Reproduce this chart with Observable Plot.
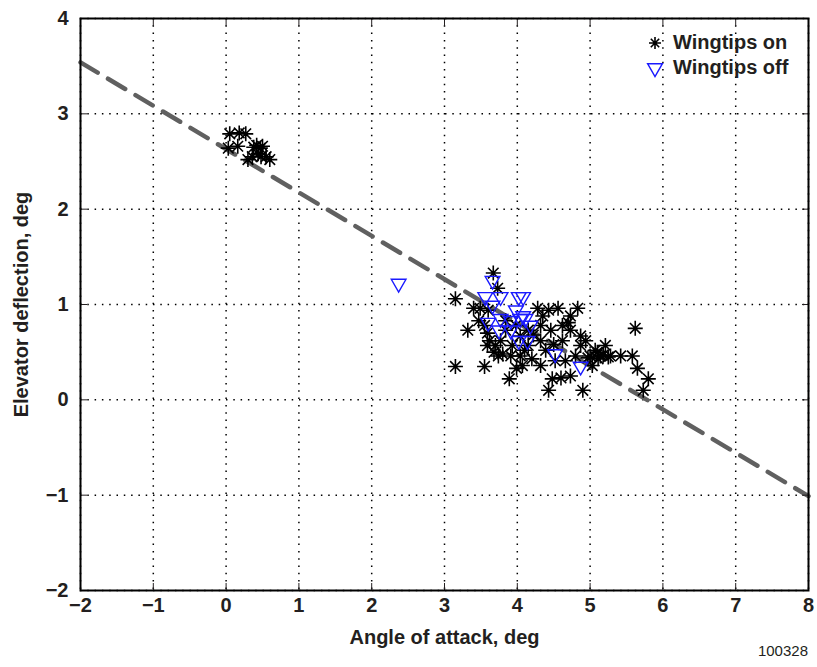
<!DOCTYPE html>
<html>
<head>
<meta charset="utf-8">
<script src="https://cdn.jsdelivr.net/npm/d3@7"></script>
<script src="https://cdn.jsdelivr.net/npm/@observablehq/plot@0.6"></script>
<style>
  body { margin: 0; background: #fff; }
  #wrap { position: relative; width: 817px; height: 667px; font-family: "Liberation Sans", Arial, sans-serif; }
  #legend { position: absolute; left: 645px; top: 30px; font-weight: bold; font-size: 20px; color: #231f20; line-height: 25px; }
  #legend div { display: flex; align-items: center; white-space: nowrap; }
  #legend svg { margin-right: 8px; }
  #caption { position: absolute; right: 9px; top: 642px; font-size: 15px; color: #231f20; }
</style>
</head>
<body>
<div id="wrap">
  <div id="chart"></div>
  <div id="legend"></div>
  <div id="caption">100328</div>
</div>
<script>
// ---- data ----
const onX = [0.05,0.18,0.27,0.03,0.16,0.30,0.38,0.42,0.47,0.44,0.36,0.50,0.55,0.60,0.48,
  3.67,3.73,3.15,3.15,3.55,3.89,4.43,4.90,4.48,4.60,3.40,3.49,3.60,3.32,3.47,3.59,3.77,3.93,3.91,4.04,3.74,4.15,4.32,4.39,4.20,4.52,4.32,4.07,4.15,4.32,4.46,4.62,4.73,4.87,4.28,4.43,4.56,4.83,4.70,4.62,4.73,4.87,4.94,5.00,5.07,5.14,5.21,5.28,5.11,5.03,5.42,5.62,5.58,5.65,5.80,5.73,4.73,4.66,4.80,3.84,3.98,4.04,3.84,3.70,3.59,3.55,3.99,3.62,3.68,3.80,4.10,4.22,4.35,4.50,4.97,5.18,5.25,5.10];
const onY = [2.79,2.80,2.79,2.64,2.66,2.52,2.65,2.67,2.64,2.58,2.55,2.66,2.55,2.52,2.55,
  1.33,1.17,1.06,0.35,0.35,0.22,0.10,0.10,0.22,0.23,0.96,0.96,0.94,0.73,0.83,0.70,0.62,0.57,0.46,0.46,0.46,0.57,0.62,0.52,0.43,0.41,0.36,0.36,0.73,0.78,0.73,0.62,0.73,0.67,0.96,0.94,0.96,0.96,0.81,0.78,0.88,0.57,0.62,0.46,0.52,0.46,0.57,0.46,0.43,0.36,0.46,0.75,0.46,0.33,0.22,0.10,0.25,0.41,0.46,0.83,0.78,0.67,0.73,0.57,0.57,0.78,0.33,0.62,0.50,0.48,0.52,0.68,0.88,0.58,0.44,0.47,0.45,0.50];
const offX = [2.37,3.66,3.56,3.66,3.77,3.60,3.77,3.91,4.02,4.08,4.04,3.91,4.11,4.18,4.02,4.14,4.52,4.87,3.75,3.98,4.08];
const offY = [1.22,1.25,1.08,0.99,1.08,0.81,0.85,0.83,1.08,1.08,0.85,0.73,0.85,0.78,0.62,0.62,0.48,0.35,0.73,0.94,0.88];
const fitX = [-2, 8];
const fitY = [3.54, -1.01];
const xTicks = [-2,-1,0,1,2,3,4,5,6,7,8];
const yTicks = [-2,-1,0,1,2,3,4];
const seriesNames = ["Wingtips on", "Wingtips off"];

// ---- symbols ----
const asterisk8 = {draw(ctx, size) {
  const r = Math.sqrt(size / Math.PI), d = r * Math.SQRT1_2;
  ctx.moveTo(-r, 0); ctx.lineTo(r, 0);
  ctx.moveTo(0, -r); ctx.lineTo(0, r);
  ctx.moveTo(-d, -d); ctx.lineTo(d, d);
  ctx.moveTo(-d, d); ctx.lineTo(d, -d);
}};
const triDown = {draw(ctx, size) {
  const r = Math.sqrt(size / Math.PI), c = r * Math.sqrt(3) / 2;
  ctx.moveTo(-c, -r / 2); ctx.lineTo(c, -r / 2); ctx.lineTo(0, r); ctx.closePath();
}};

const onData = onX.map((x, i) => ({x, y: onY[i]}));
const offData = offX.map((x, i) => ({x, y: offY[i]}));
const fitData = fitX.map((x, i) => ({x, y: fitY[i]}));
const fmt = d => d < 0 ? "\u2212" + Math.abs(d) : String(d);

const plot = Plot.plot({
  width: 817, height: 667,
  marginLeft: 80, marginRight: 9, marginTop: 18, marginBottom: 77,
  style: {fontFamily: "Liberation Sans, Arial, sans-serif", fontSize: "20px", fontWeight: "bold", color: "#231f20", background: "#fff"},
  x: {domain: [-2, 8]},
  y: {domain: [-2, 4]},
  marks: [
    Plot.gridX(xTicks, {stroke: "black", strokeOpacity: 1, strokeWidth: 1.5, strokeDasharray: "1.5,5.8"}),
    Plot.gridY(yTicks, {stroke: "black", strokeOpacity: 1, strokeWidth: 1.5, strokeDasharray: "1.5,5.8"}),
    Plot.line(fitData, {x: "x", y: "y", stroke: "#606060", strokeWidth: 4.5, strokeDasharray: "20,12"}),
    Plot.dot(onData, {x: "x", y: "y", symbol: asterisk8, r: 7.5, stroke: "black", strokeWidth: 1.6, fill: "none"}),
    Plot.dot(offData, {x: "x", y: "y", symbol: triDown, r: 8.5, stroke: "#1a1aff", strokeWidth: 1.4, fill: "none"}),
    Plot.axisX(xTicks, {anchor: "bottom", tickSize: -7, tickPadding: 14, tickFormat: fmt, label: "Angle of attack, deg", labelAnchor: "center", labelArrow: "none", labelOffset: 53}),
    Plot.axisX(xTicks, {anchor: "top", tickSize: -7, tickFormat: () => "", label: null}),
    Plot.axisY(yTicks, {anchor: "left", tickSize: -7, tickPadding: 19, tickFormat: fmt, label: "Elevator deflection, deg", labelAnchor: "center", labelArrow: "none", labelOffset: 67}),
    Plot.axisY(yTicks, {anchor: "right", tickSize: -7, tickFormat: () => "", label: null}),
    Plot.frame({stroke: "black", strokeWidth: 2})
  ]
});
document.getElementById("chart").appendChild(plot);

// ---- legend ----
const legend = document.getElementById("legend");
const legendSyms = [
  `<svg width="20" height="20" viewBox="-10 -10 20 20"><path d="M-6,0L6,0M0,-6L0,6M-4.2,-4.2L4.2,4.2M-4.2,4.2L4.2,-4.2" stroke="black" stroke-width="1.6" fill="none"/></svg>`,
  `<svg width="20" height="20" viewBox="-10 -10 20 20"><path d="M-7.4,-4.3L7.4,-4.3L0,8.5Z" stroke="#1a1aff" stroke-width="1.4" fill="none"/></svg>`
];
seriesNames.forEach((name, i) => {
  const row = document.createElement("div");
  row.innerHTML = legendSyms[i] + `<span>${name}</span>`;
  legend.appendChild(row);
});
</script>
</body>
</html>
